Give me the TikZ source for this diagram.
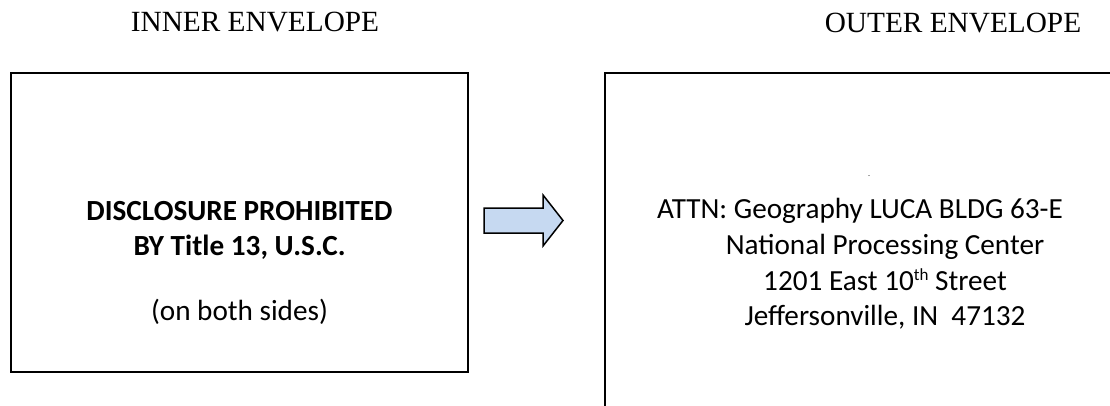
\documentclass[tikz,border=0pt]{standalone}
\usepackage{fontspec}
\setmainfont{Carlito}
\newfontfamily\headfont{Liberation Serif}
\usepackage{tikz}
\usetikzlibrary{positioning}
\definecolor{arrowblue}{HTML}{C6D9F1}
\newcommand{\supth}{\raisebox{9.5pt}{\fontsize{17}{17}\selectfont th}}

\begin{document}
\begin{tikzpicture}[x=1pt,y=-1pt,
    envbox/.style={draw,line width=2pt,rectangle,inner sep=0pt},
    head/.style={anchor=base,inner sep=0pt,font=\headfont\fontsize{29.3}{31}\selectfont},
    addr/.style={anchor=base,inner sep=0pt,font=\fontsize{29.2}{31}\selectfont}]
            \useasboundingbox (0,0) rectangle (1110,406);
            \clip (0,0) rectangle (1110,406);
            \fill[white] (0,0) rectangle (1110,406);

            % headings
            \node[head] (innerhead) at (255,32) {INNER ENVELOPE};
            \node[head] (outerhead) at (953,33) {OUTER ENVELOPE};

            % envelopes
            \node[envbox,minimum width=457pt,minimum height=299pt] (inner) at (239.5,222.5) {};
            \node[envbox,minimum width=525pt,minimum height=357pt] (outer) at (867.5,251.5) {};

            % inner envelope text
            \node[addr,font=\bfseries\fontsize{29.2}{31}\selectfont] (disc) at (239.5,220) {DISCLOSURE PROHIBITED};
            \node[addr,font=\bfseries\fontsize{29.2}{31}\selectfont] (title) at (239.5,255) {BY Title 13, U.S.C.};
            \node[addr] (sides) at (239.5,320) {(on both sides)};

            % block arrow
            \draw[line width=1.5pt,fill=arrowblue,line join=miter]
                (484,208) -- (543,208) -- (543,195) -- (563,220.5) -- (543,246) -- (543,233) -- (484,233) -- cycle;

            % outer envelope address
            \node[addr,font=\fontsize{8}{8}\selectfont] (dot) at (869,177) {.};
            \node[addr] (attn) at (860,218) {ATTN: Geography LUCA BLDG 63-E};
            \node[addr] (npc) at (885,254) {National Processing Center};
            \node[addr] (street) at (885,290) {1201 East 10\supth{} Street};
            \node[addr] (city) at (885,325) {Jeffersonville, IN\ \ 47132};

        \end{tikzpicture}
\end{document}
